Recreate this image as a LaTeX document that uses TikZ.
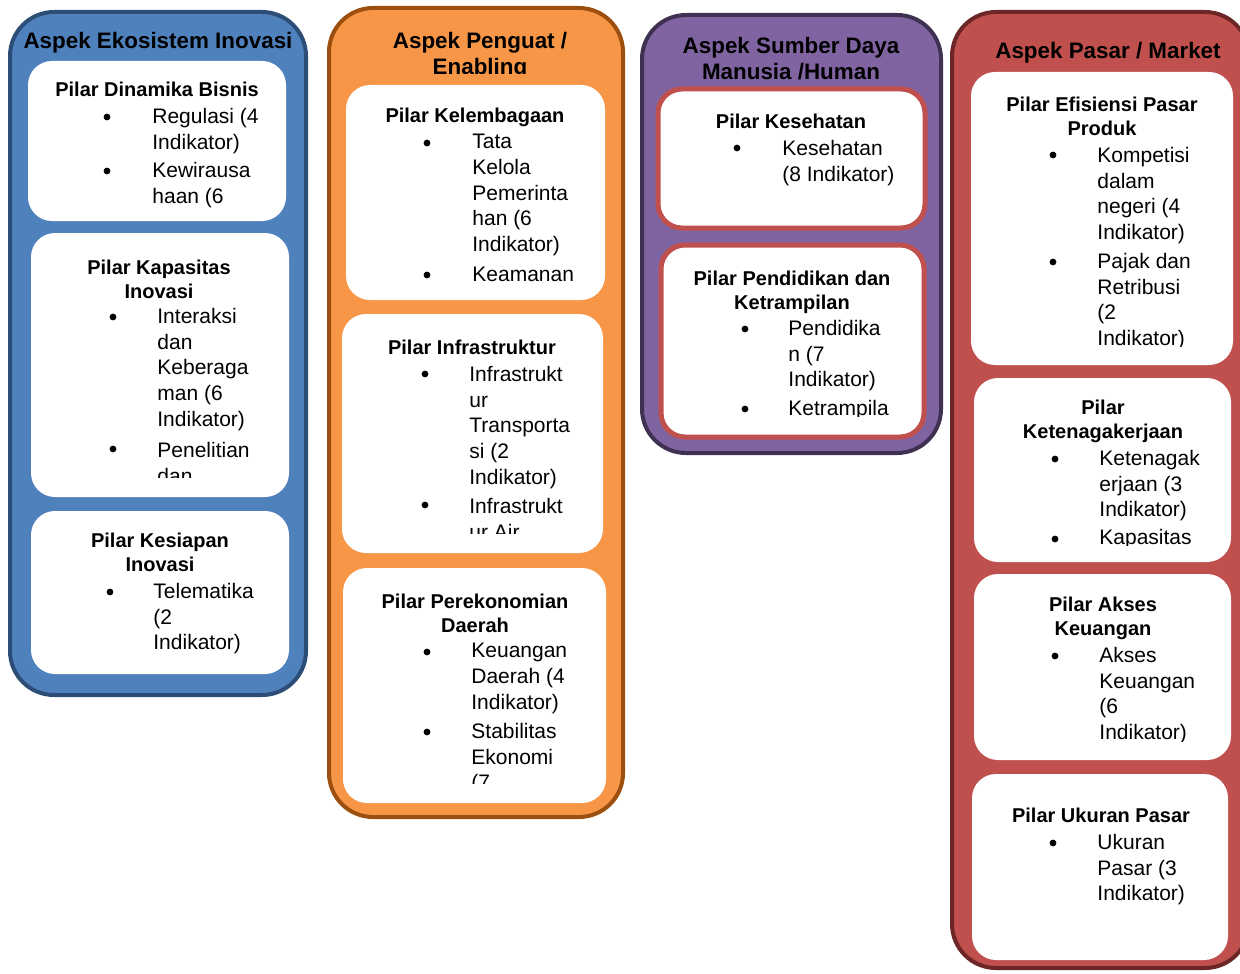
\documentclass[tikz,border=0pt]{standalone}
\usepackage{fontspec}
\setmainfont{Liberation Sans}
\usetikzlibrary{fit}
\definecolor{ekoblue}{HTML}{4F81BD}
\definecolor{ekoblueline}{HTML}{2C4D75}
\definecolor{penguat}{HTML}{F79646}
\definecolor{penguatline}{HTML}{9C4F0E}
\definecolor{sdm}{HTML}{8064A2}
\definecolor{sdmline}{HTML}{3F3151}
\definecolor{pasar}{HTML}{C0504D}
\definecolor{pasarline}{HTML}{6B2625}
\tikzset{
  aspekbox/.style   = {draw, line width=2pt, rounded corners=22pt, inner sep=0pt},
  pilarbox/.style   = {fill=white, rounded corners=12pt, inner sep=0pt},
  aspektitle/.style = {font=\fontsize{11.2}{12.8}\selectfont\bfseries, align=center,
                       anchor=north, inner sep=0pt},
  pilartitle/.style = {font=\fontsize{10}{12}\selectfont\bfseries, align=center,
                       anchor=north, inner sep=0pt},
  entry/.style      = {font=\fontsize{10.5}{12.8}\selectfont, align=left,
                       anchor=north west, inner sep=0pt},
  dotmark/.style    = {circle, fill=black, inner sep=0pt, minimum size=3.4pt},
}
\begin{document}
\begin{tikzpicture}[x=0.5pt, y=-0.5pt]
  \useasboundingbox (0,0) rectangle (1240,973);
  \clip (0,0) rectangle (1240,973);

  % Aspek Ekosistem Inovasi
  \node[aspekbox, draw=ekoblueline, fill=ekoblue, fit={(10,12) (306,695)}] (eko) {};
  \node[aspektitle] (ekoT) at (158,32) {Aspek Ekosistem Inovasi};

  \node[pilarbox, fit={(28,61) (286,221)}] (din) {};
  \node[pilartitle] (dinT) at (157,82) {Pilar Dinamika Bisnis};
  \node[dotmark] (din1) at (107,117) {};
  \node[entry] (din1t) at (152,108) {Regulasi (4\\Indikator)};
  \node[dotmark] (din2) at (107,171) {};
  \node[entry] (din2t) at (152,162) {Kewirausa\\haan (6};

  \node[pilarbox, fit={(31,233) (289,497)}] (kap) {};
  \node[pilartitle] (kapT) at (159,260) {Pilar Kapasitas\\Inovasi};
  \node[dotmark] (kap1) at (113,317) {};
  \node[entry] (kap1t) at (157,308) {Interaksi\\dan\\Keberaga\\man (6\\Indikator)};
  \node[dotmark] (kap2) at (113,449) {};
  \begin{scope}
    \clip (31,233) rectangle (289,477);
    \node[entry] (kap2t) at (157,442) {Penelitian\\dan};
  \end{scope}

  \node[pilarbox, fit={(31,511) (289,674)}] (kes) {};
  \node[pilartitle] (kesT) at (160,533) {Pilar Kesiapan\\Inovasi};
  \node[dotmark] (kes1) at (110,592) {};
  \node[entry] (kes1t) at (153,583) {Telematika\\(2\\Indikator)};

  % Aspek Penguat / Enabling
  \node[aspekbox, draw=penguatline, fill=penguat, fit={(329,8) (623,817)}] (pen) {};
  \begin{scope}
    \clip (329,8) rectangle (623,74);
    \node[aspektitle] (penT) at (480,32) {Aspek Penguat /\\Enabling};
  \end{scope}

  \node[pilarbox, fit={(346,85) (605,300)}] (kel) {};
  \node[pilartitle] (kelT) at (475,108) {Pilar Kelembagaan};
  \node[dotmark] (kel1) at (427,143) {};
  \node[entry] (kel1t) at (472,134) {Tata\\Kelola\\Pemerinta\\han (6\\Indikator)};
  \node[dotmark] (kel2) at (427,275) {};
  \node[entry] (kel2t) at (472,267) {Keamanan};

  \node[pilarbox, fit={(342,314) (603,553)}] (inf) {};
  \node[pilartitle] (infT) at (472,340) {Pilar Infrastruktur};
  \node[dotmark] (inf1) at (425,374) {};
  \node[entry] (inf1t) at (469,366) {Infrastrukt\\ur\\Transporta\\si (2\\Indikator)};
  \node[dotmark] (inf2) at (425,505) {};
  \begin{scope}
    \clip (342,314) rectangle (603,533);
    \node[entry] (inf2t) at (469,498) {Infrastrukt\\ur Air};
  \end{scope}

  \node[pilarbox, fit={(343,568) (606,803)}] (per) {};
  \node[pilartitle] (perT) at (475,594) {Pilar Perekonomian\\Daerah};
  \node[dotmark] (per1) at (427,652) {};
  \node[entry] (per1t) at (471,643) {Keuangan\\Daerah (4\\Indikator)};
  \node[dotmark] (per2) at (427,732) {};
  \begin{scope}
    \clip (343,568) rectangle (606,783);
    \node[entry] (per2t) at (471,723) {Stabilitas\\Ekonomi\\(7};
  \end{scope}

  % Aspek Sumber Daya Manusia
  \node[aspekbox, draw=sdmline, fill=sdm, fit={(642,15) (941,453)}] (sdm) {};
  \node[aspektitle] (sdmT) at (791,37) {Aspek Sumber Daya\\Manusia /Human\\Capital};

  \node[pilarbox, draw=pasar, line width=2.5pt, fit={(658,89) (925,228)}] (sehat) {};
  \node[pilartitle] (sehatT) at (791,114) {Pilar Kesehatan};
  \node[dotmark] (sehat1) at (737,148) {};
  \node[entry] (sehat1t) at (782,140) {Kesehatan\\(8 Indikator)};

  \node[pilarbox, draw=pasar, line width=2.5pt, fit={(661,245) (924,437)}] (didik) {};
  \node[pilartitle] (didikT) at (792,271) {Pilar Pendidikan dan\\Ketrampilan};
  \node[dotmark] (didik1) at (745,329) {};
  \node[entry] (didik1t) at (788,320) {Pendidika\\n (7\\Indikator)};
  \node[dotmark] (didik2) at (745,409) {};
  \begin{scope}
    \clip (661,245) rectangle (924,416);
    \node[entry] (didik2t) at (788,400) {Ketrampila};
  \end{scope}

  % Aspek Pasar / Market
  \node[aspekbox, draw=pasarline, fill=pasar, fit={(952,12) (1249,968)}] (pas) {};
  \node[aspektitle] (pasT) at (1108,42) {Aspek Pasar / Market};

  \node[pilarbox, fit={(971,72) (1233,365)}] (efis) {};
  \node[pilartitle] (efisT) at (1102,97) {Pilar Efisiensi Pasar\\Produk};
  \node[dotmark] (efis1) at (1053,155) {};
  \node[entry] (efis1t) at (1097,147) {Kompetisi\\dalam\\negeri (4\\Indikator)};
  \node[dotmark] (efis2) at (1053,262) {};
  \begin{scope}
    \clip (971,72) rectangle (1233,346);
    \node[entry] (efis2t) at (1097,253) {Pajak dan\\Retribusi\\(2\\Indikator)};
  \end{scope}

  \node[pilarbox, fit={(974,378) (1231,562)}] (kerja) {};
  \node[pilartitle] (kerjaT) at (1103,400) {Pilar\\Ketenagakerjaan};
  \node[dotmark] (kerja1) at (1055,459) {};
  \node[entry] (kerja1t) at (1099,450) {Ketenagak\\erjaan (3\\Indikator)};
  \node[dotmark] (kerja2) at (1055,539) {};
  \begin{scope}
    \clip (974,378) rectangle (1231,545);
    \node[entry] (kerja2t) at (1099,529) {Kapasitas};
  \end{scope}

  \node[pilarbox, fit={(974,574) (1231,760)}] (akses) {};
  \node[pilartitle] (aksesT) at (1103,597) {Pilar Akses\\Keuangan};
  \node[dotmark] (akses1) at (1055,656) {};
  \begin{scope}
    \clip (974,574) rectangle (1231,741);
    \node[entry] (akses1t) at (1099,647) {Akses\\Keuangan\\(6\\Indikator)};
  \end{scope}

  \node[pilarbox, fit={(972,774) (1228,960)}] (ukuran) {};
  \node[pilartitle] (ukuranT) at (1101,808) {Pilar Ukuran Pasar};
  \node[dotmark] (ukuran1) at (1053,843) {};
  \node[entry] (ukuran1t) at (1097,834) {Ukuran\\Pasar (3\\Indikator)};
\end{tikzpicture}
\end{document}
